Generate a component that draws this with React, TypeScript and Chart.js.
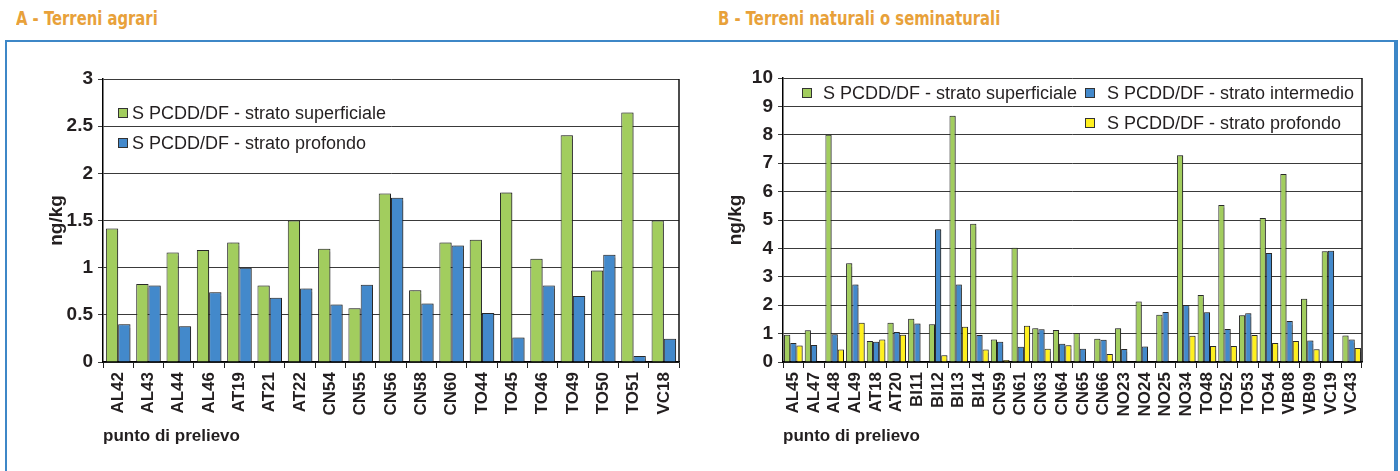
import React, { useEffect, useRef } from 'react';
import { Chart, registerables } from 'chart.js';

Chart.register(...registerables);

// ---------- data ----------
const labelsA = ['AL42', 'AL43', 'AL44', 'AL46', 'AT19', 'AT21', 'AT22', 'CN54', 'CN55', 'CN56', 'CN58', 'CN60', 'TO44', 'TO45', 'TO46', 'TO49', 'TO50', 'TO51', 'VC18'];
const superficialeA = [1.415, 0.826, 1.16, 1.186, 1.267, 0.81, 1.5, 1.2, 0.57, 1.786, 0.76, 1.267, 1.295, 1.797, 1.094, 2.404, 0.97, 2.644, 1.5];
const profondoA = [0.4, 0.81, 0.38, 0.74, 1.0, 0.68, 0.78, 0.61, 0.82, 1.74, 0.62, 1.235, 0.52, 0.26, 0.81, 0.7, 1.137, 0.064, 0.247];

const labelsB = ['AL45', 'AL47', 'AL48', 'AL49', 'AT18', 'AT20', 'BI11', 'BI12', 'BI13', 'BI14', 'CN59', 'CN61', 'CN63', 'CN64', 'CN65', 'CN66', 'NO23', 'NO24', 'NO25', 'NO34', 'TO48', 'TO52', 'TO53', 'TO54', 'VB08', 'VB09', 'VC19', 'VC43'];
const superficialeB = [0.96, 1.12, 8.0, 3.48, 0.74, 1.38, 1.52, 1.33, 8.67, 4.87, 0.79, 4.02, 1.19, 1.13, 1.02, 0.82, 1.19, 2.13, 1.66, 7.28, 2.36, 5.53, 1.65, 5.07, 6.62, 2.23, 3.9, 0.93];
const intermedioB = [0.67, 0.6, 0.98, 2.73, 0.71, 1.06, 1.36, 4.67, 2.73, 0.95, 0.71, 0.54, 1.15, 0.64, 0.47, 0.78, 0.46, 0.55, 1.76, 2.01, 1.75, 1.16, 1.72, 3.84, 1.44, 0.76, 3.92, 0.79];
const profondoB = [0.58, null, 0.44, 1.38, 0.79, 0.96, null, 0.24, 1.24, 0.44, 0.07, 1.28, 0.47, 0.59, null, 0.28, null, null, null, 0.92, 0.56, 0.56, 0.95, 0.67, 0.74, 0.45, null, 0.49];

const seriesNames = {
  sup: 'S PCDD/DF - strato superficiale',
  int: 'S PCDD/DF - strato intermedio',
  prof: 'S PCDD/DF - strato profondo',
};
const titleA = 'A - Terreni agrari';
const titleB = 'B - Terreni naturali o seminaturali';
const yTitle = 'ng/kg';
const xTitle = 'punto di prelievo';

// ---------- styles ----------
const FONT = "'Liberation Sans', Arial, Helvetica, sans-serif";
const TEXT = '#231f20';
const GREEN = '#a2cd5e';
const BLUE = '#4389cb';
const YELLOW = '#fff01f';
const EDGE = '#2a2a2a';
const GRID = '#3a3a3a';

type LegendItem = { text: string; color: string; dx: number; dy: number; tx: number };

function makePlugins(items: LegendItem[]) {
  return [
    {
      id: 'barShadow',
      beforeDatasetsDraw(chart: any) {
        const ctx = chart.ctx;
        ctx.save();
        ctx.shadowColor = 'rgba(0,0,0,0.3)';
        ctx.shadowOffsetX = 1.5;
        ctx.shadowOffsetY = 0;
        ctx.shadowBlur = 1;
      },
      afterDatasetsDraw(chart: any) {
        chart.ctx.restore();
      },
    },
    {
      id: 'frameLegend',
      afterDraw(chart: any) {
        const { ctx, chartArea } = chart;
        ctx.save();
        ctx.strokeStyle = '#111';
        ctx.lineWidth = 1.5;
        ctx.beginPath();
        ctx.moveTo(chartArea.right, chartArea.top);
        ctx.lineTo(chartArea.right, chartArea.bottom);
        ctx.stroke();
        ctx.font = `18px ${FONT}`;
        ctx.textBaseline = 'middle';
        ctx.textAlign = 'left';
        for (const it of items) {
          const bx = chartArea.left + it.dx;
          const by = chartArea.top + it.dy;
          ctx.fillStyle = it.color;
          ctx.fillRect(bx - 4.5, by - 4.5, 9, 9);
          ctx.strokeStyle = '#333';
          ctx.lineWidth = 1;
          ctx.strokeRect(bx - 4.5, by - 4.5, 9, 9);
          ctx.fillStyle = TEXT;
          ctx.fillText(it.text, chartArea.left + it.tx, by + 1);
        }
        ctx.restore();
      },
    },
  ];
}

function makeOptions(max: number, step: number, yWidth: number, yTitlePad: number, padTop: number, padRight: number) {
  return {
    responsive: false,
    animation: false,
    events: [],
    layout: { padding: { top: padTop, right: padRight, left: 0, bottom: 0 } },
    plugins: { legend: { display: false }, tooltip: { enabled: false } },
    scales: {
      x: {
        grid: { display: true, drawOnChartArea: false, drawTicks: true, tickLength: 6, color: '#222', offset: true, lineWidth: 1 },
        border: { display: true, color: '#000', width: 1.5 },
        ticks: {
          autoSkip: false,
          minRotation: 90,
          maxRotation: 90,
          padding: 4,
          color: TEXT,
          font: { family: FONT, size: 17, weight: 'bold' },
        },
        title: {
          display: true,
          text: xTitle,
          align: 'start',
          color: TEXT,
          font: { family: FONT, size: 17, weight: 'bold' },
          padding: { top: 0, bottom: 13 },
        },
        afterFit: (s: any) => {
          s.height = 98;
          s.paddingLeft = 0;
          s.paddingRight = 0;
        },
      },
      y: {
        min: 0,
        max,
        ticks: {
          stepSize: step,
          padding: 5,
          color: TEXT,
          font: { family: FONT, size: 19, weight: 'bold' },
          callback: (v: any) => String(Math.round(Number(v) * 100) / 100),
        },
        grid: { color: GRID, lineWidth: 1, tickLength: 5 },
        border: { display: true, color: '#000', width: 1.5 },
        title: {
          display: true,
          text: yTitle,
          color: TEXT,
          font: { family: FONT, size: 19, weight: 'bold' },
          padding: { top: yTitlePad, bottom: 0 },
        },
        afterFit: (s: any) => {
          s.width = yWidth;
          s.paddingTop = 0;
          s.paddingBottom = 0;
        },
      },
    },
  };
}

function ChartCanvas({ left, top, width, height, build }: { left: number; top: number; width: number; height: number; build: () => any }) {
  const ref = useRef<HTMLCanvasElement | null>(null);
  useEffect(() => {
    if (!ref.current) return;
    const chart = new Chart(ref.current, build());
    return () => chart.destroy();
  }, []);
  return (
    <canvas
      ref={ref}
      width={width}
      height={height}
      style={{ position: 'absolute', left, top, width, height }}
    />
  );
}

const barBase = { borderColor: EDGE, borderWidth: 1, barPercentage: 1.0 };

function buildA() {
  return {
    type: 'bar',
    data: {
      labels: labelsA,
      datasets: [
        { label: seriesNames.sup, data: superficialeA, backgroundColor: GREEN, categoryPercentage: 0.81, ...barBase },
        { label: seriesNames.prof, data: profondoA, backgroundColor: BLUE, categoryPercentage: 0.81, ...barBase },
      ],
    },
    options: makeOptions(3, 0.5, 63, 5, 19, 21),
    plugins: makePlugins([
      { text: seriesNames.sup, color: GREEN, dx: 20, dy: 34, tx: 29 },
      { text: seriesNames.prof, color: BLUE, dx: 20, dy: 64, tx: 29 },
    ]),
  };
}

function buildB() {
  return {
    type: 'bar',
    data: {
      labels: labelsB,
      datasets: [
        { label: seriesNames.sup, data: superficialeB, backgroundColor: GREEN, categoryPercentage: 0.9, ...barBase },
        { label: seriesNames.int, data: intermedioB, backgroundColor: BLUE, categoryPercentage: 0.9, ...barBase },
        { label: seriesNames.prof, data: profondoB, backgroundColor: YELLOW, categoryPercentage: 0.9, ...barBase },
      ],
    },
    options: makeOptions(10, 1, 73, 14, 18, 28),
    plugins: makePlugins([
      { text: seriesNames.sup, color: GREEN, dx: 24, dy: 15, tx: 40 },
      { text: seriesNames.int, color: BLUE, dx: 307, dy: 15, tx: 324 },
      { text: seriesNames.prof, color: YELLOW, dx: 307, dy: 45, tx: 324 },
    ]),
  };
}

const titleStyle: React.CSSProperties = {
  position: 'absolute',
  top: 7,
  color: '#e8a13a',
  fontFamily: "'DejaVu Sans', sans-serif",
  fontWeight: 'bold',
  fontSize: 20,
  lineHeight: '22px',
  whiteSpace: 'nowrap',
  transform: 'scaleX(0.74)',
  transformOrigin: 'left top',
};

export default function App() {
  return (
    <div style={{ position: 'absolute', left: 0, top: 0, width: 1400, height: 471, overflow: 'hidden', background: '#fff' }}>
      <div style={{ ...titleStyle, left: 16 }}>{titleA}</div>
      <div style={{ ...titleStyle, left: 718 }}>{titleB}</div>
      <div
        style={{
          position: 'absolute',
          left: 5,
          top: 40,
          width: 1387,
          height: 460,
          borderStyle: 'solid',
          borderColor: '#3d87c7',
          borderWidth: '2px 4px 2px 2px',
        }}
      />
      <ChartCanvas left={40} top={60} width={660} height={400} build={buildA} />
      <ChartCanvas left={710} top={60} width={680} height={400} build={buildB} />
    </div>
  );
}
